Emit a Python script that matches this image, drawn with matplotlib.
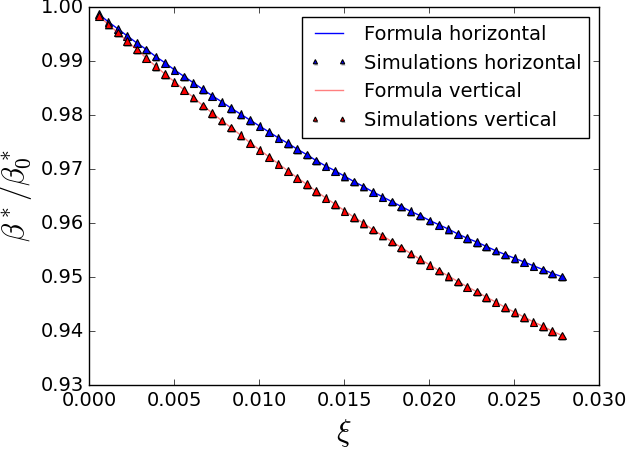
import matplotlib
matplotlib.use("Agg")
import matplotlib.pyplot as plt
import matplotlib.patheffects as pe

plt.style.use("classic")
plt.rcParams["figure.facecolor"] = "white"
plt.rcParams["savefig.facecolor"] = "white"

xi = [0.00056, 0.00111, 0.00167, 0.00222, 0.00278, 0.00334, 0.00389, 0.00445, 0.00500, 0.00556,
      0.00612, 0.00667, 0.00723, 0.00778, 0.00834, 0.00890, 0.00945, 0.01001, 0.01056, 0.01112,
      0.01168, 0.01223, 0.01279, 0.01334, 0.01390, 0.01446, 0.01501, 0.01557, 0.01612, 0.01668,
      0.01724, 0.01779, 0.01835, 0.01890, 0.01946, 0.02002, 0.02057, 0.02113, 0.02168, 0.02224,
      0.02280, 0.02335, 0.02391, 0.02446, 0.02502, 0.02558, 0.02613, 0.02669, 0.02724, 0.02780]

beta_h = [0.9987, 0.9973, 0.9960, 0.9947, 0.9934, 0.9922, 0.9909, 0.9897, 0.9884, 0.9872,
          0.9860, 0.9848, 0.9836, 0.9825, 0.9813, 0.9802, 0.9791, 0.9780, 0.9769, 0.9758,
          0.9748, 0.9737, 0.9727, 0.9716, 0.9706, 0.9697, 0.9687, 0.9677, 0.9668, 0.9658,
          0.9649, 0.9640, 0.9631, 0.9622, 0.9614, 0.9605, 0.9597, 0.9589, 0.9580, 0.9572,
          0.9565, 0.9557, 0.9549, 0.9542, 0.9535, 0.9528, 0.9521, 0.9514, 0.9507, 0.9501]

beta_v = [0.9984, 0.9968, 0.9953, 0.9937, 0.9922, 0.9906, 0.9891, 0.9876, 0.9862, 0.9847,
          0.9833, 0.9818, 0.9804, 0.9790, 0.9777, 0.9763, 0.9749, 0.9736, 0.9723, 0.9710,
          0.9697, 0.9684, 0.9672, 0.9659, 0.9647, 0.9635, 0.9623, 0.9611, 0.9600, 0.9588,
          0.9577, 0.9566, 0.9555, 0.9544, 0.9533, 0.9523, 0.9512, 0.9502, 0.9492, 0.9482,
          0.9473, 0.9463, 0.9454, 0.9444, 0.9435, 0.9426, 0.9417, 0.9409, 0.9400, 0.9392]

sombra = [pe.SimplePatchShadow(offset=(0.6, -1.2), shadow_rgbFace="0.4", alpha=0.6), pe.Normal()]

fig = plt.figure(figsize=(6.28, 4.5), dpi=100)
ax = fig.add_axes([0.1425, 0.1444, 0.8115, 0.8394])

ax.plot(xi, beta_h, color="b", lw=1, label="Formula horizontal")
ax.plot(xi, beta_h, "^", color="b", mec="k", mew=0.8, ms=5.5, ls="none",
        path_effects=sombra, label="Simulations horizontal")
ax.plot(xi, beta_v, color="r", lw=1, alpha=0.5, label="Formula vertical")
ax.plot(xi, beta_v, "^", color="r", mec="k", mew=0.8, ms=5.5, ls="none",
        path_effects=sombra, label="Simulations vertical")

ax.set_xlim(0.0, 0.030)
ax.set_ylim(0.93, 1.00)
ax.set_xticks([0.000, 0.005, 0.010, 0.015, 0.020, 0.025, 0.030])
ax.set_yticks([0.93, 0.94, 0.95, 0.96, 0.97, 0.98, 0.99, 1.00])
ax.set_xticklabels(["0.000", "0.005", "0.010", "0.015", "0.020", "0.025", "0.030"])
ax.set_yticklabels(["0.93", "0.94", "0.95", "0.96", "0.97", "0.98", "0.99", "1.00"])
ax.tick_params(labelsize=14)

ax.set_xlabel(r"$\xi$", fontsize=22)
ax.set_ylabel(r"$\beta^*/\beta_0^*$", fontsize=22)

ax.legend(loc="upper right", fontsize=14, numpoints=2, markerscale=0.55)

fig.savefig("out.png", dpi=100)
